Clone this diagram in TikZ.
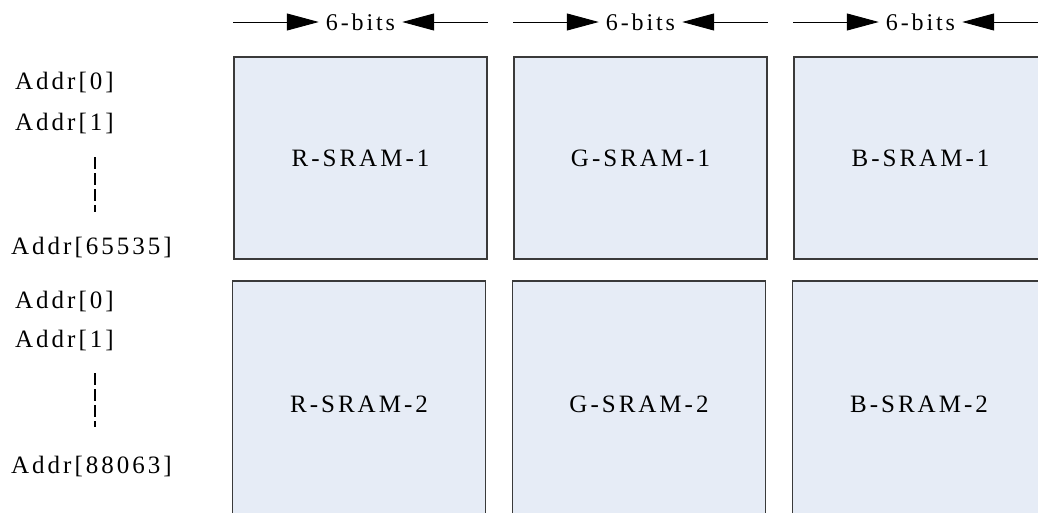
\documentclass[tikz,border=0pt]{standalone}
\usepackage{fontspec}
\setmainfont{Liberation Serif}
\newfontfamily\sramfont{Liberation Serif}[LetterSpace=12]
\usetikzlibrary{arrows.meta}
\definecolor{sramfill}{HTML}{E6ECF6}
\definecolor{sramline}{HTML}{3A3A3A}
\tikzset{
  sram/.style={draw=sramline, line width=1.2pt, fill=sramfill, minimum width=253pt, inner sep=0pt, font=\fontsize{25}{29}\sramfont},
  addr/.style={anchor=base west, inner sep=0pt, font=\fontsize{25}{29}\sramfont},
  bits/.style={inner sep=7pt, font=\fontsize{24}{28}\sramfont},
  dimline/.style={line width=0.9pt, -{Triangle[length=32pt,width=17pt]}},
  skipline/.style={line width=1.3pt, dash pattern=on 12pt off 4pt},
}

\begin{document}
\begin{tikzpicture}[x=1pt,y=-1pt]
        \clip (0,0) rectangle (1038,512);

        % first row of memories
        \node[sram, minimum height=202pt] (r1) at (360.5,158) {R-SRAM-1};
        \node[sram, minimum height=202pt] (g1) at (640.5,158) {G-SRAM-1};
        \node[sram, minimum height=202pt] (b1) at (920.5,158) {B-SRAM-1};

        % second row of memories
        \node[sram, minimum height=246pt] (r2) at (359,404) {R-SRAM-2};
        \node[sram, minimum height=246pt] (g2) at (639,404) {G-SRAM-2};
        \node[sram, minimum height=246pt] (b2) at (919,404) {B-SRAM-2};

        % word widths
        \node[bits] (wr) at (360.5,22) {6-bits};
        \node[bits] (wg) at (640.5,22) {6-bits};
        \node[bits] (wb) at (920.5,22) {6-bits};

        \draw[dimline] (r1.north west |- wr) -- (wr.west);
        \draw[dimline] (r1.north east |- wr) -- (wr.east);
        \draw[dimline] (g1.north west |- wg) -- (wg.west);
        \draw[dimline] (g1.north east |- wg) -- (wg.east);
        \draw[dimline] (b1.north west |- wb) -- (wb.west);
        \draw[dimline] (b1.north east |- wb) -- (wb.east);

        % addresses
        \node[addr] (a10) at (15,89) {Addr[0]};
        \node[addr] (a11) at (15,130) {Addr[1]};
        \node[addr] (a1n) at (11,254) {Addr[65535]};
        \node[addr] (a20) at (15,308) {Addr[0]};
        \node[addr] (a21) at (15,347) {Addr[1]};
        \node[addr] (a2n) at (11,473) {Addr[88063]};

        \coordinate (s1a) at (95,157);
        \coordinate (s1b) at (95,212);
        \coordinate (s2a) at (95,373);
        \coordinate (s2b) at (95,427);
        \draw[skipline] (s1a) -- (s1b);
        \draw[skipline] (s2a) -- (s2b);
    \end{tikzpicture}
\end{document}
